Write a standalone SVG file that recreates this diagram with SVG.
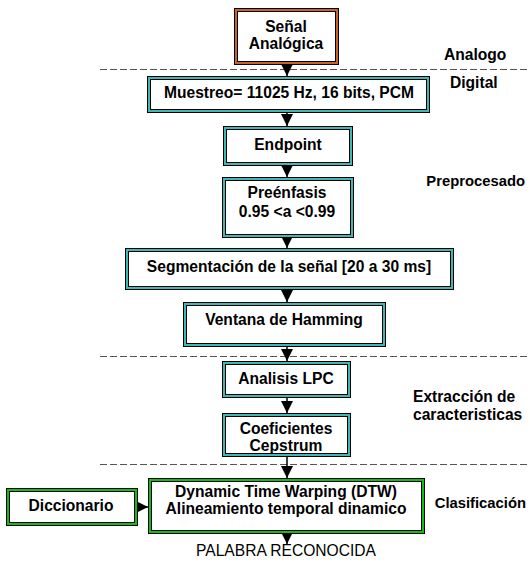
<svg xmlns="http://www.w3.org/2000/svg" width="530" height="567" viewBox="0 0 530 567">
<style>
.o{stroke:#000;stroke-width:1}
.teal{fill:#40b8b8}
.orange{fill:#c8642a}
.green{fill:#10c010}
.in{fill:#fff;stroke:#000;stroke-width:1}
text{font-family:"Liberation Sans",Arial,sans-serif;font-size:15.6px;font-weight:bold;fill:#000}
.c{text-anchor:middle}
.e{text-anchor:end;font-size:14.8px}
.reg{font-weight:normal}
.dash{stroke:#555;stroke-width:1;stroke-dasharray:7 3;fill:none}
.ln{stroke:#000;stroke-width:1.5;fill:none}
</style>
<defs>
<marker id="ah" markerUnits="userSpaceOnUse" markerWidth="12" markerHeight="12" refX="10" refY="5" orient="auto" viewBox="0 0 10 10">
<path d="M0,0 L10,5 L0,10 Z" fill="#000"/>
</marker>
</defs>
<g id="separators">
<line class="dash" x1="100" y1="69.5" x2="529" y2="69.5"/>
<line class="dash" x1="100" y1="356.5" x2="529" y2="356.5"/>
<line class="dash" x1="100" y1="464.5" x2="529" y2="464.5"/>
</g>
<g id="connectors">
<line class="ln" x1="287" y1="64" x2="287" y2="76" marker-end="url(#ah)"/>
<line class="ln" x1="287" y1="113" x2="287" y2="126" marker-end="url(#ah)"/>
<line class="ln" x1="287" y1="165" x2="287" y2="177" marker-end="url(#ah)"/>
<line class="ln" x1="287" y1="237" x2="287" y2="248" marker-end="url(#ah)"/>
<line class="ln" x1="287" y1="289" x2="287" y2="302" marker-end="url(#ah)"/>
<line class="ln" x1="287" y1="346" x2="287" y2="361" marker-end="url(#ah)"/>
<line class="ln" x1="287" y1="397" x2="287" y2="413" marker-end="url(#ah)"/>
<line class="ln" x1="287" y1="456" x2="287" y2="478" marker-end="url(#ah)"/>
<line class="ln" x1="287" y1="533" x2="287" y2="544" marker-end="url(#ah)"/>
<line class="ln" x1="137" y1="507" x2="148" y2="507" marker-end="url(#ah)"/>
</g>
<g id="senal">
<rect class="o orange" x="234.5" y="8.5" width="104" height="56"/>
<rect class="in" x="237.5" y="11.5" width="98" height="50"/>
<text class="c" x="286" y="32">Señal</text>
<text class="c" x="286" y="49">Analógica</text>
</g>
<g id="muestreo">
<rect class="o teal" x="147.5" y="76.5" width="282" height="36"/>
<rect class="in" x="150.5" y="79.5" width="276" height="30"/>
<text class="c" x="289" y="98">Muestreo= 11025 Hz, 16 bits, PCM</text>
</g>
<g id="endpoint">
<rect class="o teal" x="223.5" y="126.5" width="129" height="39"/>
<rect class="in" x="226.5" y="129.5" width="123" height="33"/>
<text class="c" x="288" y="150">Endpoint</text>
</g>
<g id="preenfasis">
<rect class="o teal" x="222.5" y="177.5" width="131" height="60"/>
<rect class="in" x="225.5" y="180.5" width="125" height="54"/>
<text class="c" x="287" y="198">Preénfasis</text>
<text class="c" x="287" y="217">0.95 &lt;a &lt;0.99</text>
</g>
<g id="segmentacion">
<rect class="o teal" x="125.5" y="248.5" width="328" height="41"/>
<rect class="in" x="128.5" y="251.5" width="322" height="35"/>
<text class="c" x="289" y="272">Segmentación de la señal [20 a 30 ms]</text>
</g>
<g id="ventana">
<rect class="o teal" x="183.5" y="302.5" width="202" height="44"/>
<rect class="in" x="186.5" y="305.5" width="196" height="38"/>
<text class="c" x="284" y="325">Ventana de Hamming</text>
</g>
<g id="lpc">
<rect class="o teal" x="222.5" y="361.5" width="128" height="36"/>
<rect class="in" x="225.5" y="364.5" width="122" height="30"/>
<text class="c" x="286" y="384">Analisis LPC</text>
</g>
<g id="cepstrum">
<rect class="o teal" x="222.5" y="413.5" width="128" height="43"/>
<rect class="in" x="225.5" y="416.5" width="122" height="37"/>
<text class="c" x="286" y="434">Coeficientes</text>
<text class="c" x="286" y="451">Cepstrum</text>
</g>
<g id="dtw">
<rect class="o green" x="148.5" y="478.5" width="276" height="55"/>
<rect class="in" x="151.5" y="481.5" width="270" height="49"/>
<text class="c" x="286" y="497">Dynamic Time Warping (DTW)</text>
<text class="c" x="286" y="514">Alineamiento temporal dinamico</text>
</g>
<g id="diccionario">
<rect class="o green" x="6.5" y="488.5" width="131" height="37"/>
<rect class="in" x="9.5" y="491.5" width="125" height="31"/>
<text class="c" x="71" y="511">Diccionario</text>
</g>
<g id="labels">
<text x="444" y="60">Analogo</text>
<text x="450" y="88">Digital</text>
<text class="e" x="525" y="186">Preprocesado</text>
<text x="413" y="402">Extracción de</text>
<text x="413" y="420">caracteristicas</text>
<text class="e" x="526" y="508">Clasificación</text>
<text class="c reg" x="286" y="556">PALABRA RECONOCIDA</text>
</g>
</svg>
